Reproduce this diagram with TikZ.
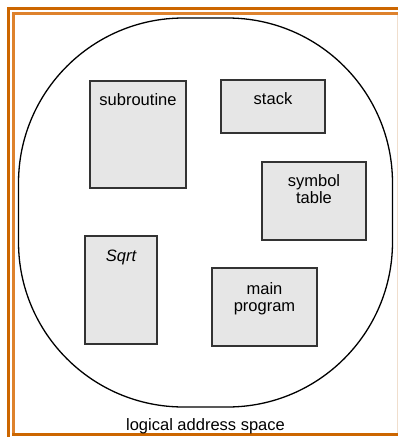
\documentclass[tikz,border=0pt]{standalone}
\usepackage{fontspec}
\setmainfont{Liberation Sans}
\usepackage{xcolor}
\usepackage{tikz}
\usetikzlibrary{positioning}

\definecolor{framedark}{RGB}{204,102,0}
\definecolor{framelight}{RGB}{222,130,45}
\definecolor{frameshade}{RGB}{240,222,205}
\definecolor{segfill}{RGB}{230,230,230}

\begin{document}
\begin{tikzpicture}[x=1pt,y=-1pt,
  segment/.style={rectangle, draw=black!80, fill=segfill, line width=1.1pt, inner sep=0pt},
  caption/.style={inner sep=0pt, align=center, font=\fontsize{16.5}{17}\selectfont},
  frameline/.style={line width=3pt, line cap=rect}
]
  \useasboundingbox (0,0) rectangle (398,437);

  % page frame
  \draw[frameline, framedark] (398,8) -- (8,8) -- (8,437);
  \draw[frameline, framelight] (398,13.5) -- (13.5,13.5) -- (13.5,433);
  \draw[frameline, framedark] (13.5,434.5) -- (398,434.5);
  \draw[frameshade, line width=1pt] (397,15) -- (397,433);

  % address space
  \node[draw, line width=1.3pt, rounded corners=165pt, minimum width=374pt,
    minimum height=389pt] (space) at (205.5,212.5) {};
  \node[caption, below=11pt of space.south] (spacetxt) {logical address space};

  % segments
  \node[segment, minimum width=96pt, minimum height=107pt] (sub) at (138,134.5) {};
  \node[segment, minimum width=104pt, minimum height=53pt] (stack) at (273,106.5) {};
  \node[segment, minimum width=104pt, minimum height=78pt] (symtab) at (314,201) {};
  \node[segment, minimum width=72pt, minimum height=108pt] (sqrt) at (121,290) {};
  \node[segment, minimum width=105pt, minimum height=78pt] (main) at (264.5,307) {};

  \node[caption, below=13pt of sub.north] (subtxt) {subroutine};
  \node[caption, below=13pt of stack.north] (stacktxt) {stack};
  \node[caption, below=13pt of symtab.north] (symtabtxt) {symbol\\table};
  \node[caption, below=14pt of sqrt.north] (sqrttxt) {\itshape Sqrt};
  \node[caption, below=15pt of main.north] (maintxt) {main\\program};
\end{tikzpicture}
\end{document}
